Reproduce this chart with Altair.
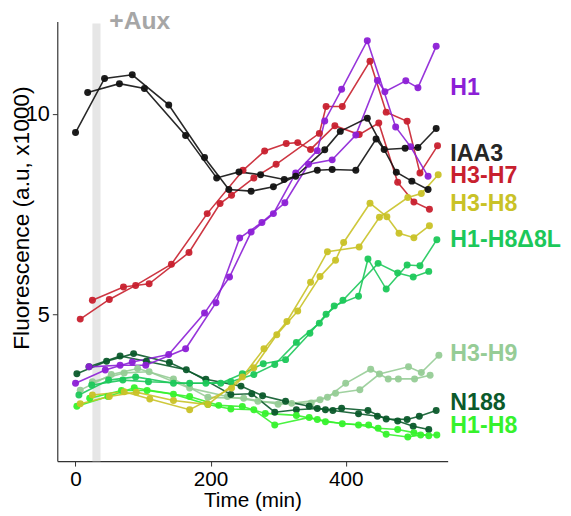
import altair as alt
import pandas as pd

# ---- data (time in min, fluorescence in a.u. x1000), two replicates per construct ----
iaa3_a_t = [0, 43, 84, 138, 191, 227, 260, 293, 326, 369, 392, 432, 475, 498, 522]
iaa3_a_v = [9.53, 10.88, 10.97, 10.22, 8.91, 8.11, 8.07, 8.18, 8.44, 9.10, 9.56, 9.89, 8.54, 8.32, 8.11]
iaa3_b_t = [18, 65, 102, 163, 209, 242, 274, 309, 358, 380, 415, 445, 457, 488, 507, 534]
iaa3_b_v = [10.53, 10.75, 10.63, 9.46, 8.40, 8.55, 8.48, 8.36, 8.59, 8.61, 8.59, 9.37, 9.11, 9.14, 9.16, 9.63]

h1_a_t = [0, 44, 84, 138, 191, 228, 260, 293, 326, 358, 369, 394, 432, 474, 496, 522]
h1_a_v = [3.28, 3.61, 3.81, 4.00, 5.03, 5.93, 7.05, 7.51, 8.52, 9.08, 9.82, 10.61, 11.82, 9.67, 9.18, 8.44]
h1_b_t = [20, 66, 104, 163, 208, 243, 276, 310, 345, 380, 415, 447, 458, 489, 507, 534]
h1_b_v = [3.69, 3.73, 3.73, 4.14, 5.29, 6.90, 7.29, 7.78, 8.74, 8.85, 9.47, 10.83, 10.55, 10.82, 10.65, 11.68]

h3h7_a_t = [7, 50, 89, 142, 195, 248, 280, 312, 329, 348, 384, 420, 449, 477, 501, 524]
h3h7_a_v = [4.88, 5.37, 5.72, 6.25, 7.51, 8.59, 9.07, 9.26, 9.28, 9.11, 9.70, 9.48, 9.77, 8.29, 7.80, 7.62]
h3h7_b_t = [25, 71, 109, 168, 214, 231, 264, 297, 361, 371, 395, 436, 460, 491, 510, 536]
h3h7_b_v = [5.35, 5.68, 5.76, 6.54, 7.76, 7.97, 8.40, 8.74, 9.51, 10.18, 10.18, 11.31, 10.04, 9.81, 8.52, 9.20]

h3h8_a_t = [7, 50, 90, 145, 196, 247, 279, 313, 348, 373, 420, 450, 492, 512, 537]
h3h8_a_v = [2.77, 2.95, 3.06, 2.85, 2.75, 3.44, 4.14, 4.82, 5.80, 6.56, 6.68, 7.42, 7.91, 8.01, 8.48]
h3h8_b_t = [25, 72, 110, 169, 231, 264, 298, 329, 362, 385, 397, 436, 461, 479, 501, 524]
h3h8_b_v = [2.99, 3.07, 2.89, 2.62, 3.16, 3.67, 4.49, 5.08, 5.94, 6.35, 6.79, 7.77, 7.43, 7.02, 6.91, 7.21]

d8l_a_t = [5, 49, 89, 145, 193, 230, 264, 295, 327, 361, 383, 419, 433, 460, 491, 510, 535]
d8l_a_v = [2.99, 3.36, 3.44, 3.28, 3.28, 3.32, 3.50, 3.75, 4.30, 4.78, 5.21, 5.45, 6.38, 5.63, 6.23, 6.21, 6.86]
d8l_b_t = [24, 70, 108, 169, 215, 247, 278, 311, 347, 371, 396, 448, 477, 500, 523]
d8l_b_v = [3.24, 3.36, 3.32, 3.28, 3.28, 3.52, 3.77, 3.87, 4.53, 5.00, 5.35, 6.27, 6.03, 5.93, 6.07]

h3h9_a_t = [7, 53, 92, 145, 196, 249, 300, 349, 373, 400, 437, 463, 478, 502, 525]
h3h9_a_v = [3.11, 3.50, 3.65, 3.39, 2.93, 2.91, 2.76, 2.79, 2.93, 3.28, 3.63, 3.39, 3.39, 3.39, 3.48]
h3h9_b_t = [25, 72, 109, 169, 225, 270, 320, 362, 385, 421, 450, 493, 512, 538]
h3h9_b_v = [3.32, 3.54, 3.57, 3.16, 2.95, 2.83, 2.78, 2.87, 3.03, 3.12, 3.51, 3.69, 3.55, 3.98]

n188_a_t = [2, 46, 86, 139, 193, 245, 277, 311, 346, 370, 394, 433, 460, 491, 509, 534]
n188_a_v = [3.52, 3.83, 4.02, 3.80, 3.38, 3.21, 2.97, 2.83, 2.71, 2.62, 2.66, 2.60, 2.39, 2.38, 2.46, 2.60]
n188_b_t = [20, 66, 105, 164, 230, 261, 295, 327, 358, 381, 419, 447, 477, 500, 523]
n188_b_v = [3.69, 3.96, 3.83, 3.62, 3.00, 3.02, 2.56, 2.62, 2.65, 2.60, 2.52, 2.46, 2.34, 2.21, 2.13]

h1h8_a_t = [2, 48, 87, 145, 196, 230, 264, 295, 346, 370, 419, 448, 477, 501, 523]
h1h8_a_v = [2.71, 2.95, 3.17, 3.01, 2.75, 2.64, 2.62, 2.24, 2.43, 2.32, 2.24, 2.16, 2.13, 2.05, 1.97]
h1h8_b_t = [21, 68, 106, 169, 212, 247, 281, 327, 358, 395, 434, 460, 492, 511, 535]
h1h8_b_v = [2.91, 3.10, 3.10, 2.95, 2.73, 2.70, 2.53, 2.48, 2.38, 2.27, 2.24, 2.01, 1.94, 1.99, 1.99]

series_names = ["H3-H9", "N188", "H1-H8", "H1-H8\u03948L", "H3-H8", "H3-H7", "H1", "IAA3"]
series_colors = ["#96CC96", "#0B5A2B", "#36F22C", "#1CC85A", "#C9C227", "#C8202E", "#8C1FD6", "#111111"]

label_y = [4.02, 2.79, 2.22, 6.85, 7.75, 8.44, 10.63, 8.99]
label_x = 555
label_colors = ["#96CC96", "#0B5A2B", "#36F22C", "#1CC85A", "#C9C227", "#C8202E", "#8C1FD6", "#262626"]

aux_start, aux_end = 25, 37

replicates = [
    ("H3-H9", "a", h3h9_a_t, h3h9_a_v), ("H3-H9", "b", h3h9_b_t, h3h9_b_v),
    ("N188", "a", n188_a_t, n188_a_v), ("N188", "b", n188_b_t, n188_b_v),
    ("H1-H8", "a", h1h8_a_t, h1h8_a_v), ("H1-H8", "b", h1h8_b_t, h1h8_b_v),
    ("H1-H8\u03948L", "a", d8l_a_t, d8l_a_v), ("H1-H8\u03948L", "b", d8l_b_t, d8l_b_v),
    ("H3-H8", "a", h3h8_a_t, h3h8_a_v), ("H3-H8", "b", h3h8_b_t, h3h8_b_v),
    ("H3-H7", "a", h3h7_a_t, h3h7_a_v), ("H3-H7", "b", h3h7_b_t, h3h7_b_v),
    ("H1", "a", h1_a_t, h1_a_v), ("H1", "b", h1_b_t, h1_b_v),
    ("IAA3", "a", iaa3_a_t, iaa3_a_v), ("IAA3", "b", iaa3_b_t, iaa3_b_v),
]

rows = []
for order, (name, rep, ts, vs) in enumerate(replicates):
    for t, v in zip(ts, vs):
        rows.append({"series": name, "rep": name + rep, "t": t, "v": v, "z": order})
df = pd.DataFrame(rows)

labels = pd.DataFrame({"series": series_names, "y": label_y, "x": [label_x] * len(series_names),
                       "c": label_colors})
band = pd.DataFrame({"x": [aux_start], "x2": [aux_end]})
aux_text = pd.DataFrame({"x": [aux_start + 25], "y": [12.10], "label": ["+Aux"]})

FONT = "Liberation Sans"
W, H = 396, 446

xs = alt.Scale(domain=[-27, 551], nice=False, zero=False)
ys = alt.Scale(domain=[1.34, 12.30], nice=False, zero=False)
cs = alt.Scale(domain=series_names, range=series_colors)

base = alt.Chart(df)

band_layer = alt.Chart(band).mark_rect(color="#E6E6E6").encode(
    x=alt.X("x:Q", scale=xs), x2="x2:Q", y=alt.value(2), y2=alt.value(H)
)

aux_layer = alt.Chart(aux_text).mark_text(
    font=FONT, fontSize=25, fontWeight="bold", color="#A6A6A6", align="left",
    baseline="alphabetic"
).encode(x=alt.X("x:Q", scale=xs), y=alt.Y("y:Q", scale=ys), text="label:N")

lines = base.mark_line(strokeWidth=1.6, opacity=0.9).encode(
    x=alt.X("t:Q", scale=xs, title="Time (min)",
            axis=alt.Axis(values=[0, 200, 400], grid=False)),
    y=alt.Y("v:Q", scale=ys, title="Fluorescence (a.u, x1000)",
            axis=alt.Axis(values=[5, 10], grid=False, titleX=-36, titleY=199,
                          titleBaseline="middle")),
    color=alt.Color("series:N", scale=cs, legend=None),
    detail="rep:N",
    order="t:Q",
)

points = base.mark_circle(size=50, opacity=0.95).encode(
    x=alt.X("t:Q", scale=xs),
    y=alt.Y("v:Q", scale=ys),
    color=alt.Color("series:N", scale=cs, legend=None),
)

label_layer = alt.Chart(labels).mark_text(
    font=FONT, fontSize=23.5, fontWeight="bold", align="left", baseline="middle"
).encode(
    x=alt.X("x:Q", scale=xs),
    y=alt.Y("y:Q", scale=ys),
    text="series:N",
    color=alt.Color("c:N", scale=None),
)

chart = alt.layer(band_layer, lines, points, label_layer, aux_layer).properties(
    width=W, height=H,
    autosize=alt.AutoSizeParams(type="none"),
    padding={"left": 50, "top": 10, "right": 117, "bottom": 52},
).configure_view(stroke=None).configure_axis(
    labelFont=FONT, titleFont=FONT, labelFontSize=22, titleFontSize=23,
    labelColor="#000000", titleColor="#000000", titleFontWeight="normal",
    domainColor="#333333", tickColor="#333333", tickSize=5, domainWidth=1.2,
).configure_axisX(
    labelFontSize=21, titleFontSize=21, titlePadding=0, labelPadding=3
).configure_axisY(labelPadding=3)

chart.save("out.html", embed_options={"renderer": "svg", "actions": False})
